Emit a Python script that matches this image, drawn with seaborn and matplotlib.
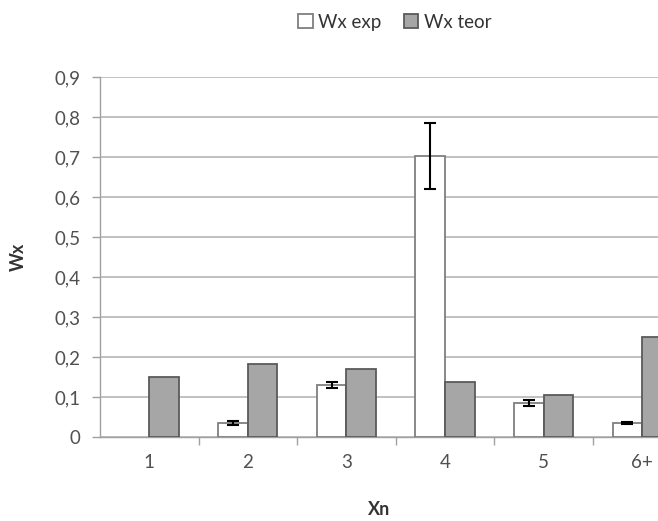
import numpy as np
import pandas as pd
import matplotlib
matplotlib.use("Agg")
import matplotlib.pyplot as plt
from matplotlib.ticker import FuncFormatter, MultipleLocator, FixedLocator
from matplotlib.patches import Patch
import seaborn as sns

categories = ["1", "2", "3", "4", "5", "6+"]
wx_exp = [0.0, 0.035, 0.131, 0.703, 0.086, 0.035]
wx_exp_err = [0.0, 0.005, 0.008, 0.082, 0.008, 0.003]
wx_teor = [0.151, 0.183, 0.170, 0.138, 0.106, 0.251]
series = ["Wx exp", "Wx teor"]

df = pd.DataFrame({
    "Xn": categories * 2,
    "Wx": wx_exp + wx_teor,
    "serie": [series[0]] * len(categories) + [series[1]] * len(categories),
})

sns.set_theme(style="white")
plt.rcParams["font.family"] = ["Lato", "DejaVu Sans"]

fig = plt.figure(figsize=(6.58, 5.21), dpi=100)
ax = fig.add_axes([0.152, 0.161, 0.848, 0.691])

sns.barplot(data=df, x="Xn", y="Wx", hue="serie", order=categories,
            hue_order=series, palette=["white", "#a6a6a6"], width=0.6,
            gap=0, errorbar=None, edgecolor="#7f7f7f", linewidth=1.3,
            legend=False, ax=ax, zorder=3)

# darker edges on the grey bars, hide empty bars
for p in ax.patches[len(categories):]:
    p.set_edgecolor("#5a5a5a")
for p in ax.patches:
    if p.get_height() == 0:
        p.set_visible(False)

# error bars on the experimental bars
exp_patches = ax.patches[:len(categories)]
xs = [p.get_x() + p.get_width() / 2 for p in exp_patches]
for x, v, e in zip(xs, wx_exp, wx_exp_err):
    if e > 0:
        ax.errorbar(x, v, yerr=e, fmt="none", ecolor="black", elinewidth=1.5,
                    capsize=4.5, capthick=1.5, zorder=4)

ax.set_xlim(-0.5, 5.16)
ax.set_ylim(0, 0.9)
ax.yaxis.set_major_locator(MultipleLocator(0.1))
ax.yaxis.set_major_formatter(FuncFormatter(
    lambda v, _: "0" if abs(v) < 1e-9 else f"{v:.1f}".replace(".", ",")))
ax.grid(axis="y", color="#b0b0b0", linewidth=1.1, zorder=0)
ax.set_axisbelow(True)

for side in ["top", "right"]:
    ax.spines[side].set_visible(False)
for side in ["left", "bottom"]:
    ax.spines[side].set_color("#a0a0a0")
    ax.spines[side].set_linewidth(1.0)

ax.xaxis.set_minor_locator(FixedLocator(np.arange(0.5, 5.6, 1.0)))
ax.tick_params(axis="x", which="major", length=0, pad=12,
               labelsize=13.5, labelcolor="#505050")
ax.tick_params(axis="x", which="minor", bottom=True, length=6,
               color="#a0a0a0", width=1.0)
ax.tick_params(axis="y", left=True, length=6, color="#a0a0a0", width=1.0,
               labelsize=13.5, labelcolor="#505050", pad=8)

ax.set_xlabel("Xn", fontsize=13, fontweight="bold", color="#333333",
              labelpad=22)
ax.set_ylabel("Wx", fontsize=13, fontweight="bold", color="#333333",
              labelpad=20)

handles = [Patch(facecolor="white", edgecolor="#7f7f7f", linewidth=1.3),
           Patch(facecolor="#a6a6a6", edgecolor="#5a5a5a", linewidth=1.3)]
fig.legend(handles, series, loc="center", bbox_to_anchor=(0.6, 0.957),
           ncol=2, frameon=False, fontsize=13.5, handlelength=0.75,
           handleheight=0.75, handletextpad=0.3, columnspacing=1.2,
           labelcolor="#333333")

fig.savefig("out.png", dpi=100)
